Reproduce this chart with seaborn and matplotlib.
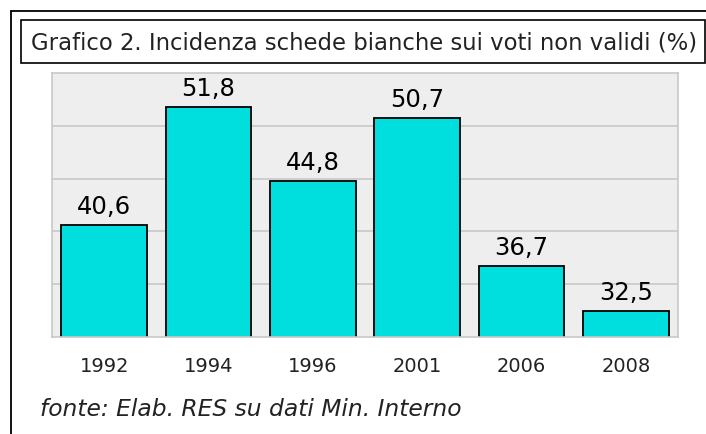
import matplotlib
matplotlib.use("Agg")
import matplotlib.pyplot as plt
from matplotlib.patches import Rectangle
from matplotlib.lines import Line2D
import pandas as pd
import seaborn as sns

# dati
anni = ["1992", "1994", "1996", "2001", "2006", "2008"]
incidenza = [40.6, 51.8, 44.8, 50.7, 36.7, 32.5]
etichette = ["40,6", "51,8", "44,8", "50,7", "36,7", "32,5"]

titolo = "Grafico 2. Incidenza schede bianche sui voti non validi (%)"
fonte = "fonte: Elab. RES su dati Min. Interno"

df = pd.DataFrame({"anno": anni, "valore": incidenza})

sns.set_style("white")
plt.rcParams["font.family"] = ["DejaVu Sans"]

W, H = 706, 435
fig = plt.figure(figsize=(W / 100, H / 100), dpi=100)
fig.patch.set_facecolor("white")

def fx(px):
    return px / W

def fy(py):
    return 1 - py / H

# cornice esterna
fig.add_artist(Line2D([fx(11), fx(706)], [fy(12), fy(12)], color="black", lw=1.3))
fig.add_artist(Line2D([fx(11), fx(11)], [fy(12), fy(435)], color="black", lw=1.3))

# riquadro del titolo
fig.add_artist(Rectangle((fx(21), fy(64)), fx(705) - fx(21), fy(21) - fy(64),
                         transform=fig.transFigure, fill=False, ec="black", lw=1.2))
fig.text(fx(31), fy(43), titolo, fontsize=16.4, color="#222222", va="center", ha="left")

ax = fig.add_axes([fx(52), fy(338), fx(678) - fx(52), fy(74) - fy(338)])
sns.barplot(data=df, x="anno", y="valore", color="#00DEDE", saturation=1,
            edgecolor="black", linewidth=1.3, width=0.82, ax=ax)
ax.set_facecolor("#EEEEEE")
ax.set_ylim(30, 55)
ax.set_xlim(-0.5, 5.5)
ax.set_yticks([35, 40, 45, 50])
ax.set_yticklabels([])
ax.grid(axis="y", color="#C8C8C8", lw=1.2)
ax.set_axisbelow(True)
ax.tick_params(axis="both", length=0)
ax.tick_params(axis="x", labelsize=14, colors="#222222", pad=13.5)
ax.set_xlabel("")
ax.set_ylabel("")
for s in ax.spines.values():
    s.set_color("#C8C8C8")
    s.set_linewidth(1.2)

ax.bar_label(ax.containers[0], labels=etichette, padding=5, fontsize=17.5, color="black")

fig.text(fx(40), fy(410), fonte, fontsize=16.8, style="italic", color="#222222",
         va="center", ha="left")

fig.savefig("out.png", dpi=100)
